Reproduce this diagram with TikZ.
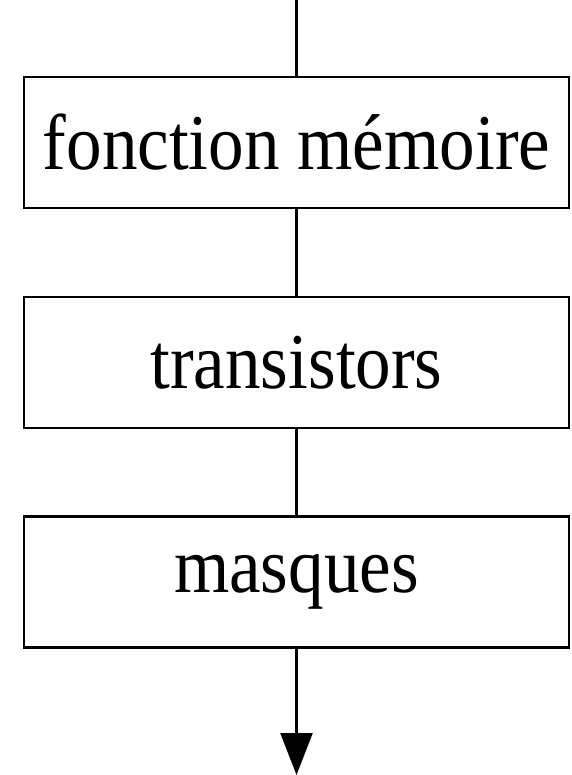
\documentclass[tikz,border=0pt]{standalone}
\usepackage{fontspec}
\setmainfont{Liberation Serif}[FakeStretch=0.9]
\usetikzlibrary{arrows.meta}
\begin{document}
\begin{tikzpicture}[x=1pt, y=1pt, line width=2.5pt,
  stage/.style={draw, rectangle, minimum width=545pt, minimum height=131pt, inner sep=0pt,
    font=\fontsize{79}{90}\selectfont}]
\useasboundingbox (0,0) rectangle (571,-775);
\coordinate (top) at (296.5,0);
\node[stage] (st0) at (296.5,-142.5){fonction mémoire};
\node[stage] (st1) at (296.5,-362.5){transistors};
\node[stage] (st2) at (296.5,-582){masques};
\coordinate (bot) at (296.5,-775);
\draw[](top) -- (st0);
\draw[](st0) -- (st1);
\draw[](st1) -- (st2);
\draw[-{Triangle[width=32pt,length=42pt]}](st2) -- (bot);
\end{tikzpicture}
\end{document}
